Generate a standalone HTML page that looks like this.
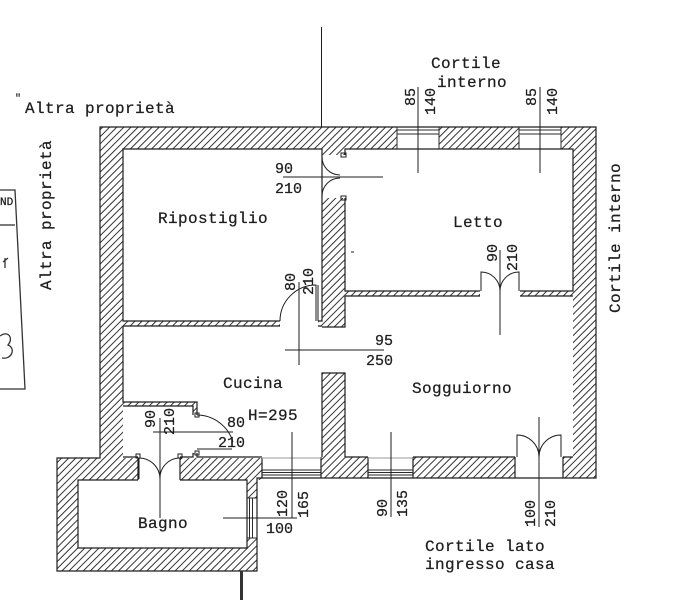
<!DOCTYPE html>
<html><head><meta charset="utf-8"><style>
html,body{margin:0;padding:0;background:#fff;}
svg{display:block;}
text{font-family:"Liberation Mono","DejaVu Sans Mono",monospace;fill:#1e1e1e;stroke:#1e1e1e;stroke-width:0.25px;}
.l{font-size:16px;letter-spacing:0.4px;}
.n{font-size:15px;}
</style></head><body>
<svg width="680" height="600" viewBox="0 0 680 600" xmlns="http://www.w3.org/2000/svg">
<defs>
<pattern id="h" width="5" height="5" patternUnits="userSpaceOnUse" patternTransform="rotate(45)">
<line x1="2.5" y1="-1" x2="2.5" y2="6" stroke="#333" stroke-width="1"/>
</pattern>
</defs>
<rect width="680" height="600" fill="#fff"/>

<!-- hatched walls -->
<g fill="url(#h)">
<rect x="100" y="127" width="297" height="22"/>
<rect x="439" y="127" width="80" height="22"/>
<rect x="561" y="127" width="35" height="22"/>
<rect x="100" y="149" width="23" height="309"/>
<rect x="573" y="149" width="23" height="329"/>
<rect x="321" y="457" width="47" height="21"/>
<rect x="413" y="457" width="102" height="21"/>
<rect x="563" y="457" width="10" height="21"/>
<rect x="322" y="149" width="23" height="6"/>
<rect x="322" y="198" width="23" height="129"/>
<rect x="322" y="373" width="23" height="84"/>
<rect x="123" y="321" width="157" height="5"/>
<rect x="318" y="321" width="4" height="5"/>
<rect x="345" y="291" width="135" height="5"/>
<rect x="520" y="291" width="53" height="5"/>
<rect x="123" y="402" width="74" height="4"/>
<rect x="193" y="406" width="4" height="9"/>
<rect x="193" y="453" width="4" height="4"/>
<rect x="57" y="458" width="81" height="22"/>
<rect x="180" y="458" width="82" height="22"/>
<rect x="57" y="480" width="21" height="91"/>
<rect x="78" y="548" width="179" height="23"/>
<rect x="247" y="480" width="10" height="18"/>
<rect x="247" y="538" width="10" height="10"/>
</g>

<!-- wall outlines -->
<g fill="none" stroke="#1e1e1e" stroke-width="1.2">
<path d="M100,127 H596 V478 H257 V571 H57 V458 H100 Z"/>
<path d="M262,458 V478"/>
<path d="M322,155 V149 H123 V321 H280 M318,321 H322 V198"/>
<path d="M322,155 V198"/>
<path d="M345,155 V149 H573 V291 H520 M480,291 H345 V198"/>
<path d="M345,296 V327 H322"/>
<path d="M345,296 H480 M520,296 H573"/>
<path d="M123,326 H280 M318,326 H322"/>
<path d="M123,326 V402 H197 V415 M197,453 V457 H262"/>
<path d="M123,406 H193 V415 M193,453 V457 H180 M138,457 H123"/>
<path d="M322,457 V373 H345 V457"/>
<path d="M573,457 H563 M515,457 H413 M368,457 H345"/>
<path d="M515,457 V478 M563,457 V478 M413,457 V478 M368,457 V478 M321,457 V478"/>
<path d="M138,480 H78 V548 H247 V480 H180"/>
<path d="M138,458 V480 M180,458 V480"/>
</g>

<!-- windows -->
<g fill="none" stroke="#2a2a2a" stroke-width="1">
<path d="M397,127 V149 M439,127 V149 M397,130 H439 M397,134 H439"/>
<path d="M519,127 V149 M561,127 V149 M519,130 H561 M519,134 H561"/>
<path d="M262,470 H321 M262,472.5 H321 M262,475 H321"/>
<path d="M368,470 H413 M368,472.5 H413 M368,475 H413"/>
<path d="M262,458 H321 M368,458 H413" stroke="#999"/>
<path d="M247,498 H257 M247,538 H257 M249.5,498 V538 M252.5,498 V538"/>
</g>

<!-- doors -->
<g fill="none" stroke="#1e1e1e" stroke-width="1">
<path d="M322,157 A18,18 0 0 0 340,175"/>
<path d="M322,196 A18,18 0 0 1 340,178"/>
<rect x="341" y="153" width="5" height="4"/>
<rect x="341" y="196" width="5" height="4"/>
<path d="M481,291 V272 A19,19 0 0 1 500,291"/>
<path d="M519,291 V272 A19,19 0 0 0 500,291"/>
<path d="M517,457 V435 A22,22 0 0 1 539,457"/>
<path d="M561,457 V435 A22,22 0 0 0 539,457"/>
<path d="M139,479 V458 A21,21 0 0 1 160,479"/>
<path d="M180,479 V458 A20,20 0 0 0 160,479"/>
<rect x="136" y="454" width="4" height="4"/>
<rect x="178" y="454" width="4" height="4"/>
<path d="M316,321 V285 A36,36 0 0 0 280,321"/>
<path d="M318,285 V321"/>
<path d="M197,415 A38,38 0 0 1 233,442"/>
<path d="M197,449 H232"/>
<rect x="195" y="413" width="4" height="4"/>
<rect x="195" y="451" width="4" height="4"/>
</g>

<!-- dimension lines -->
<g stroke="#1e1e1e" stroke-width="1" fill="none">
<path d="M321.5,27 V127"/>
<path d="M418,87 V173 M540,87 V173"/>
<path d="M283,177 H383"/>
<path d="M500,250 V335"/>
<path d="M299,282 V365 M285,350 H384"/>
<path d="M160,418 V518 M153,432 H233"/>
<path d="M292,432 V518 M223,518 H297"/>
<path d="M391,432 V517"/>
<path d="M539,417 V527"/>
<path d="M351,252 H354"/>
</g>
<rect x="240" y="571" width="3" height="29" fill="#333"/>

<!-- left scrap -->
<g fill="none" stroke="#333" stroke-width="1.3">
<path d="M0,190 H15 L25,389 H0"/>
<path d="M0,225 H15"/>
<path d="M0,336 C8,330 14,338 8,345 C16,348 12,360 2,358"/>
<path d="M3,262 L8,258 M5,258 V268"/>
</g>
<text x="0" y="205" style="font-size:11px">ND</text>

<!-- labels -->
<text x="15" y="101" style="font-size:10px">″</text>
<text class="l" x="25" y="113">Altra proprietà</text>
<text class="l" transform="translate(51,290) rotate(-90)">Altra proprietà</text>
<text class="l" transform="translate(620,313) rotate(-90)">Cortile interno</text>
<text class="l" x="431" y="68">Cortile</text>
<text class="l" x="437" y="87">interno</text>
<text class="l" x="158" y="223">Ripostiglio</text>
<text class="l" x="453" y="227">Letto</text>
<text class="l" x="223" y="388">Cucina</text>
<text class="l" x="248" y="420">H=295</text>
<text class="l" x="412" y="393">Sogguiorno</text>
<text class="l" x="138" y="528">Bagno</text>
<text class="l" x="425" y="551">Cortile lato</text>
<text class="l" x="425" y="569">ingresso casa</text>

<!-- numbers -->
<text class="n" x="275" y="173">90</text>
<text class="n" x="275" y="193">210</text>
<text class="n" x="393" y="345" text-anchor="end">95</text>
<text class="n" x="393" y="365" text-anchor="end">250</text>
<text class="n" x="245" y="427" text-anchor="end">80</text>
<text class="n" x="245" y="447" text-anchor="end">210</text>
<text class="n" x="266" y="533">100</text>

<text class="n" text-anchor="end" transform="translate(415,88) rotate(-90)">85</text>
<text class="n" text-anchor="end" transform="translate(435,88) rotate(-90)">140</text>
<text class="n" text-anchor="end" transform="translate(536,88) rotate(-90)">85</text>
<text class="n" text-anchor="end" transform="translate(557,88) rotate(-90)">140</text>
<text class="n" text-anchor="end" transform="translate(497,244) rotate(-90)">90</text>
<text class="n" text-anchor="end" transform="translate(517,244) rotate(-90)">210</text>
<text class="n" text-anchor="end" transform="translate(295,273) rotate(-90)">80</text>
<text class="n" text-anchor="end" transform="translate(313,268) rotate(-90)">210</text>
<text class="n" text-anchor="end" transform="translate(155,410) rotate(-90)">90</text>
<text class="n" text-anchor="end" transform="translate(174,408) rotate(-90)">210</text>
<text class="n" transform="translate(287,517) rotate(-90)">120</text>
<text class="n" transform="translate(308,518) rotate(-90)">165</text>
<text class="n" transform="translate(387,517) rotate(-90)">90</text>
<text class="n" transform="translate(407,517) rotate(-90)">135</text>
<text class="n" transform="translate(535,527) rotate(-90)">100</text>
<text class="n" transform="translate(555,527) rotate(-90)">210</text>
</svg>
</body></html>
